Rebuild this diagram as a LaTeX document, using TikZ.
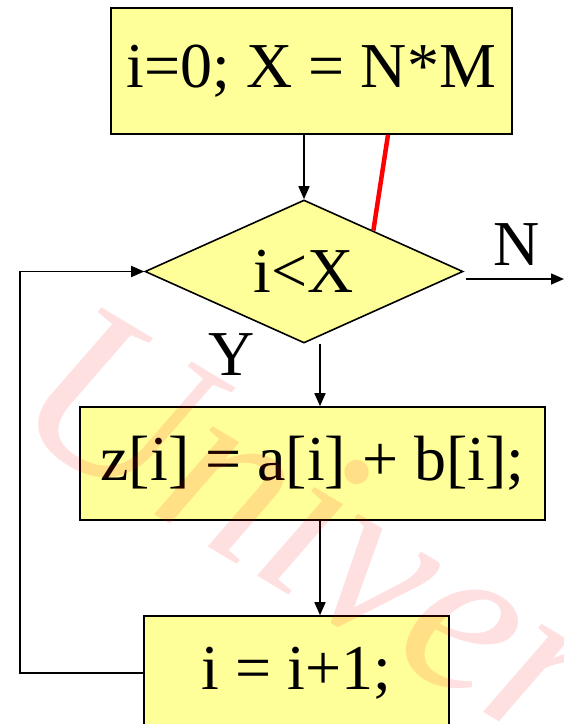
\documentclass[tikz,border=0pt]{standalone}
\usepackage{fontspec}
\setmainfont{Liberation Serif}
\usetikzlibrary{shapes.geometric,arrows.meta,calc}
\definecolor{boxyellow}{RGB}{255,255,153}
\definecolor{markred}{RGB}{255,0,0}

\begin{document}
\begin{tikzpicture}[x=1pt,y=-1pt,
    every node/.style={font=\fontsize{64}{64}\selectfont},
    blk/.style={draw,line width=1.6pt,fill=boxyellow,inner sep=0pt},
    test/.style={blk,diamond,aspect=2.2},
    arr/.style={line width=1.6pt,-{Triangle[length=13pt,width=11pt]}}]
    \useasboundingbox (0,0) rectangle (564,724);

    % boxes
    \node[blk,minimum width=401pt,minimum height=126pt] (init) at (311.5,71) {i=0; X = N*M};
    \node[test,minimum width=318pt,minimum height=143pt] (cond) at (304,271.5) {i<X};
    \node[blk,minimum width=465pt,minimum height=113pt] (body) at (312.5,463.5) {z[i] = a[i] + b[i];};
    \node[blk,minimum width=305pt,minimum height=114pt] (incr) at (296.5,673) {i = i+1;};

    \coordinate (spine) at (320,0);
    \coordinate (back) at (20,0);
    \coordinate (exit) at (564,279);

    % connectors
    \draw[arr] (init.south -| cond.north) -- (cond.north);
    \draw[arr] (cond.south -| spine) -- (body.north -| spine);
    \draw[arr] (body.south -| spine) -- (incr.north -| spine);
    \draw[arr] (incr.west) -- (incr.west -| back) |- (cond.west);
    \draw[arr] (exit -| cond.east) ++(2,0) -- (exit);
    \draw[markred,line width=4.5pt] ($(init.south west)!0.69!(init.south east)$) -- ($(cond.north)!0.434!(cond.east)$);

    \node (yes) at (232,355) {Y};
    \node (no) at (517,245) {N};

    % watermark
    \node[anchor=base west,text=red,text opacity=0.12,rotate=-31,inner sep=0pt,font=\fontsize{230}{230}\selectfont\itshape] (mark) at (5,425) {University};
\end{tikzpicture}
\end{document}
